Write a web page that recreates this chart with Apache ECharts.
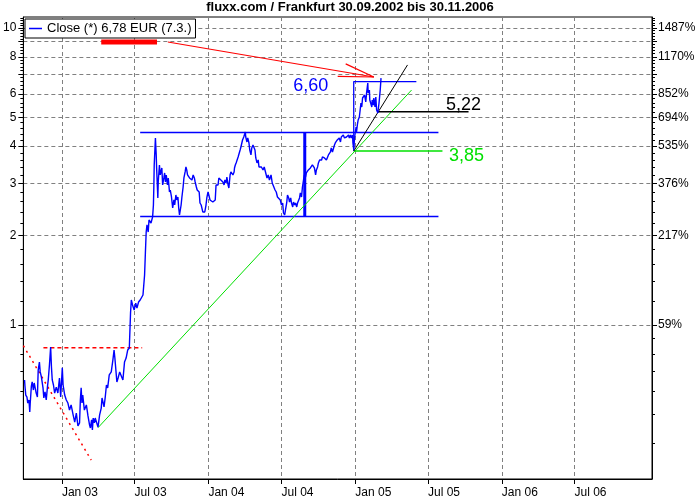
<!DOCTYPE html>
<html><head><meta charset="utf-8">
<script src="https://cdn.jsdelivr.net/npm/echarts@6/dist/echarts.min.js"></script>
<style>html,body{margin:0;padding:0;background:#fff}#c{width:700px;height:500px}</style>
</head><body><div id="c"></div>
<script>
const titleText = 'fluxx.com / Frankfurt 30.09.2002 bis 30.11.2006';
const seriesName = 'Close (*) 6,78 EUR (7.3.)';

// x values: calendar days counted from 1 Jan 2003 (negative = 2002)
const dayOffset = [-93,-92,-90,-87,-85,-82,-80,-79,-76,-74,-71,-69,-66,-64,-61,-59,-56,-54,-51,-47,-45,-42,-39,-36,-34,-31,-28,-26,-24,-21,-18,-14,-10,-6,-3,
1,3,7,11,15,19,23,28,32,36,40,44,46,48,50,52,56,61,65,69,71,74,76,78,81,83,87,90,94,98,100,105,108,111,114,118,123,127,130,132,137,140,144,148,152,156,160,164,168,171,173,176,180,184,187,191,195,
202,206,208,210,212,215,217,222,226,228,229,230,233,235,236,239,240,243,245,249,251,254,256,258,260,263,265,268,270,273,276,279,281,284,286,289,291,293,295,297,299,302,304,307,309,311,313,316,318,322,324,327,330,332,335,337,341,342,344,347,351,353,356,359,361,364,
366,369,371,376,380,382,384,386,389,391,394,396,399,401,404,406,409,411,414,416,419,421,424,426,429,430,432,434,436,439,441,444,446,448,450,453,455,457,458,461,463,466,468,471,473,476,478,481,483,486,489,491,494,497,501,504,507,511,514,517,521,524,527,531,534,537,540,544,547,550,552,555,557,560,562,565,567,570,572,575,577,580,582,585,587,589,592,594,597,599,602,604,607,609,612,614,617,619,622,624,627,629,632,634,637,639,642,644,647,649,652,654,657,659,662,664,666,669,671,674,676,679,681,684,686,689,691,694,696,699,701,704,706,709,711,714,716,719,721,724,725,727,729,
731,733,734,736,738,741,743,745,747,749,752,754,757,759,762,763,766,767,770,772,773,776,777,780,782,784,787,790,793,795];
const close = [0.653,0.623,0.581,0.572,0.546,0.559,0.510,0.542,0.623,0.643,0.604,0.638,0.638,0.590,0.572,0.705,0.750,0.695,0.668,0.614,0.568,0.595,0.559,0.618,0.653,0.733,0.843,0.722,0.653,0.628,0.590,0.618,0.590,0.663,0.572,
0.717,0.628,0.581,0.559,0.546,0.517,0.538,0.498,0.471,0.505,0.457,0.468,0.559,0.614,0.546,0.581,0.517,0.538,0.494,0.460,0.450,0.479,0.443,0.486,0.468,0.486,0.486,0.453,0.498,0.525,0.568,0.530,0.572,0.628,0.614,0.679,0.695,0.762,0.824,0.774,0.643,0.663,0.695,0.705,0.653,0.750,0.774,0.824,0.837,1.098,1.214,1.168,1.123,1.185,1.140,1.195,1.214,
1.262,1.474,1.747,2.056,2.172,2.056,2.258,2.205,2.311,2.535,2.893,3.458,4.263,3.737,3.378,2.677,3.030,3.458,3.200,3.378,2.961,3.126,3.250,3.030,3.200,2.961,3.126,2.804,2.848,2.698,2.477,2.636,2.535,2.740,2.636,2.698,2.477,2.346,2.333,2.535,2.698,2.915,3.126,3.275,3.405,3.326,3.200,3.250,3.126,3.150,3.078,3.200,3.126,3.030,2.915,2.848,2.848,2.804,2.575,2.535,2.402,2.402,2.402,2.535,2.677,2.804,
2.740,2.636,2.615,2.595,2.615,2.636,2.961,3.007,2.961,3.126,3.126,3.078,3.126,3.030,2.961,3.078,3.007,3.150,2.961,2.893,3.200,3.275,3.250,3.200,3.275,3.378,3.458,3.513,3.540,3.680,3.651,3.884,3.975,3.945,4.197,4.295,4.263,4.465,4.295,4.133,4.263,4.101,3.884,3.737,3.945,4.037,3.975,3.884,3.651,3.513,3.595,3.405,3.458,3.405,3.326,3.405,3.378,3.126,3.200,3.078,3.200,3.007,2.961,2.848,2.804,2.698,2.740,2.636,2.535,2.575,2.383,2.346,2.439,2.575,2.740,2.677,2.595,2.677,2.575,2.497,2.595,2.535,2.575,2.497,2.575,2.595,2.677,2.783,2.698,2.893,3.078,3.200,3.150,3.250,3.275,3.326,3.275,3.378,3.405,3.458,3.405,3.378,3.200,3.326,3.405,3.513,3.595,3.651,3.595,3.680,3.651,3.651,3.595,3.595,3.651,3.737,3.680,3.825,3.945,3.825,3.884,4.037,4.101,4.133,4.197,4.197,4.263,4.133,4.295,4.295,4.362,4.263,4.295,4.295,4.329,4.362,4.263,4.362,4.263,4.362,4.101,3.900,4.263,
4.465,4.642,4.465,4.715,4.900,5.015,5.295,5.591,5.420,5.812,5.723,5.948,5.634,6.041,6.528,6.041,6.184,5.723,5.812,5.420,5.723,5.505,5.812,5.420,5.857,5.295,5.173,5.591,6.184,6.780];

// axis ticks
const xTickDates = ['2003-01-01','2003-07-01','2004-01-01','2004-07-01','2005-01-01','2005-07-01','2006-01-01','2006-07-01'];
const xTickLabels = ['Jan 03','Jul 03','Jan 04','Jul 04','Jan 05','Jul 05','Jan 06','Jul 06'];
const yGridValues = [1,2,3,4,5,6,7,8,9,10];
const yLabelValues = [1,2,3,4,5,6,8,10];
const yLeftLabels = ['1','2','3','4','5','6','8','10'];
const yRightLabels = ['59%','217%','376%','535%','694%','852%','1170%','1487%'];
const yMinorTicks = [0.4,0.5,0.6,0.7,0.8,0.9,1.2,1.4,1.6,1.8,2.2,2.4,2.6,2.8,3.2,3.4,3.6,3.8,4.2,4.4,4.6,4.8,5.2,5.4,5.6,5.8,6.2,6.4,6.6,6.8,7.2,7.4,7.6,7.8,8.2,8.4,8.6,8.8,9.2,9.4,9.6,9.8,10.2,10.4,10.6,10.8];

// drawn annotation lines: [day offset, price]
const channelTop = [[195,4.45],[938,4.45]];
const channelBottom = [[195,2.32],[938,2.32]];
const channelSpan = [[605,2.32],[605,4.45]];
const box660 = [[727,3.85],[727,6.60],[883,6.60]];
const blackTrend = [[727,3.85],[861,7.51]];
const level522 = [[787,5.22],[1013,5.22]];
const greenTrend = [[90,0.451],[871,6.18]];
const level385 = [[727,3.85],[948,3.85]];
const redDowntrend = [[-96,0.852],[73,0.351]];
const redResistance = [[-46,0.839],[200,0.839]];
const redArrowShaft = [[264,8.97],[777,6.84]];
const redArrowBarb1 = [[707,7.57],[777,6.84]];
const redArrowBarb2 = [[687,6.87],[777,6.84]];
const redMarker = [[98,8.97],[237,8.97]];
// text annotations: [day offset, price, text]
const note660 = [727, 6.60, '6,60'];
const note522 = [1013, 5.22, '5,22'];
const note385 = [948, 3.85, '3,85'];

const DAY = 86400000;
const T0 = Date.UTC(2003,0,1);
const toT = d => T0 + d*DAY;
const xMin = toT(-96), xMax = toT(1470);
const yMin = 0.303, yMax = 10.89;
const FONT = '"Liberation Sans", Arial, sans-serif';

const priceData = dayOffset.map((d,i)=>[toT(d), close[i]]);
const conv = arr => arr.map(p=>[toT(p[0]), p[1]]);

function lineSeries(data, color, width, type, z){
  return {type:'line', data:conv(data), symbol:'none', silent:true, animation:false,
    lineStyle:{color:color, width:width, type:type||'solid'}, z:z||3, xAxisIndex:0, yAxisIndex:0};
}
function noteSeries(n, color, offset){
  return {type:'scatter', data:[[toT(n[0]), n[1]]], symbolSize:0, silent:true, animation:false, z:6,
    itemStyle:{opacity:1, color:color},
    label:{show:true, position:'inside', offset:offset, formatter:n[2], color:color, opacity:1, fontSize:18, fontFamily:FONT,
      textBorderWidth:0, textBorderColor:'transparent', textShadowBlur:0}};
}
const xTickTimes = xTickDates.map(s=>{const p=s.split('-');return Date.UTC(+p[0],+p[1]-1,+p[2]);});
function xLabel(v){
  let best=0; for(let i=0;i<xTickTimes.length;i++){ if(Math.abs(xTickTimes[i]-v)<Math.abs(xTickTimes[best]-v)) best=i; }
  return xTickLabels[best];
}
function labelFor(v, labels){
  let best=0; for(let i=0;i<yLabelValues.length;i++){ if(Math.abs(yLabelValues[i]-v)<Math.abs(yLabelValues[best]-v)) best=i; }
  return labels[best];
}

const logAxisBase = {type:'log', logBase:10, min:yMin, max:yMax};
const chart = echarts.init(document.getElementById('c'), null, {renderer:'canvas'});
chart.setOption({
  animation:false,
  backgroundColor:'#fff',
  title:{text:titleText, left:'center', top:1, padding:0,
    textStyle:{fontSize:13, fontWeight:'bold', color:'#000', fontFamily:FONT}},
  legend:{data:[{name:seriesName, icon:'rect'}], left:25, top:19, selectedMode:false,
    itemWidth:13, itemHeight:1.5, padding:[3,4,3,4], borderColor:'#000', borderWidth:1, backgroundColor:'#fff',
    textStyle:{fontSize:13, color:'#000', fontFamily:FONT}},
  grid:{left:22, right:48, top:17, bottom:21, show:true, borderColor:'#000', borderWidth:1, backgroundColor:'#fff'},
  xAxis:[{type:'value', min:xMin, max:xMax,
    axisLine:{show:true, lineStyle:{color:'#000'}},
    axisTick:{show:true, customValues:xTickTimes, length:5, lineStyle:{color:'#000'}},
    axisLabel:{customValues:xTickTimes, align:'left', margin:8, fontSize:12, color:'#000', fontFamily:FONT,
      formatter:xLabel},
    splitLine:{show:true, lineStyle:{color:'#808080', type:[4,3], width:1}}
  }],
  yAxis:[
    Object.assign({}, logAxisBase, {position:'left',
      axisLine:{show:true, lineStyle:{color:'#000'}},
      axisTick:{show:true, customValues:yGridValues, length:5, lineStyle:{color:'#000'}},
      axisLabel:{customValues:yLabelValues, margin:7, fontSize:12, color:'#000', fontFamily:FONT,
        formatter:function(v){ return labelFor(v, yLeftLabels); }},
      splitLine:{show:true, lineStyle:{color:'#808080', type:[4,3], width:1}}}),
    Object.assign({}, logAxisBase, {position:'left',
      axisLine:{show:false}, axisLabel:{show:false}, splitLine:{show:false},
      axisTick:{show:true, customValues:yMinorTicks, length:3, lineStyle:{color:'#000'}}}),
    Object.assign({}, logAxisBase, {position:'right',
      axisLine:{show:true, lineStyle:{color:'#000'}},
      axisTick:{show:true, customValues:yGridValues, length:5, lineStyle:{color:'#000'}},
      axisLabel:{customValues:yLabelValues, margin:6, fontSize:12, color:'#000', fontFamily:FONT,
        formatter:function(v){ return labelFor(v, yRightLabels); }},
      splitLine:{show:false}}),
    Object.assign({}, logAxisBase, {position:'right',
      axisLine:{show:false}, axisLabel:{show:false}, splitLine:{show:false},
      axisTick:{show:true, customValues:yMinorTicks, length:3, lineStyle:{color:'#000'}}})
  ],
  series:[
    {name:seriesName, type:'line', data:priceData, symbol:'none', animation:false, z:4,
      lineStyle:{color:'#0000ff', width:1.4}, itemStyle:{color:'#0000ff'}},
    lineSeries(channelTop, '#0000ff', 1.5),
    lineSeries(channelBottom, '#0000ff', 1.5),
    lineSeries(channelSpan, '#0000ff', 3),
    lineSeries(box660, '#0000ff', 1.3),
    lineSeries(greenTrend, '#00e000', 1),
    lineSeries(level385, '#00e000', 1.5),
    lineSeries(blackTrend, '#000000', 1),
    lineSeries(level522, '#000000', 1.5),
    lineSeries(redDowntrend, '#ff0000', 1.5, [2,4]),
    lineSeries(redResistance, '#ff0000', 1.5, [4,3]),
    lineSeries(redArrowShaft, '#ff0000', 1.2),
    lineSeries(redArrowBarb1, '#ff0000', 1.2),
    lineSeries(redArrowBarb2, '#ff0000', 1.2),
    lineSeries(redMarker, '#ff0000', 5),
    noteSeries(note660, '#0000ff', [-43,4]),
    noteSeries(note522, '#000000', [-5,-7]),
    noteSeries(note385, '#00e000', [24,5])
  ]
});
</script></body></html>
